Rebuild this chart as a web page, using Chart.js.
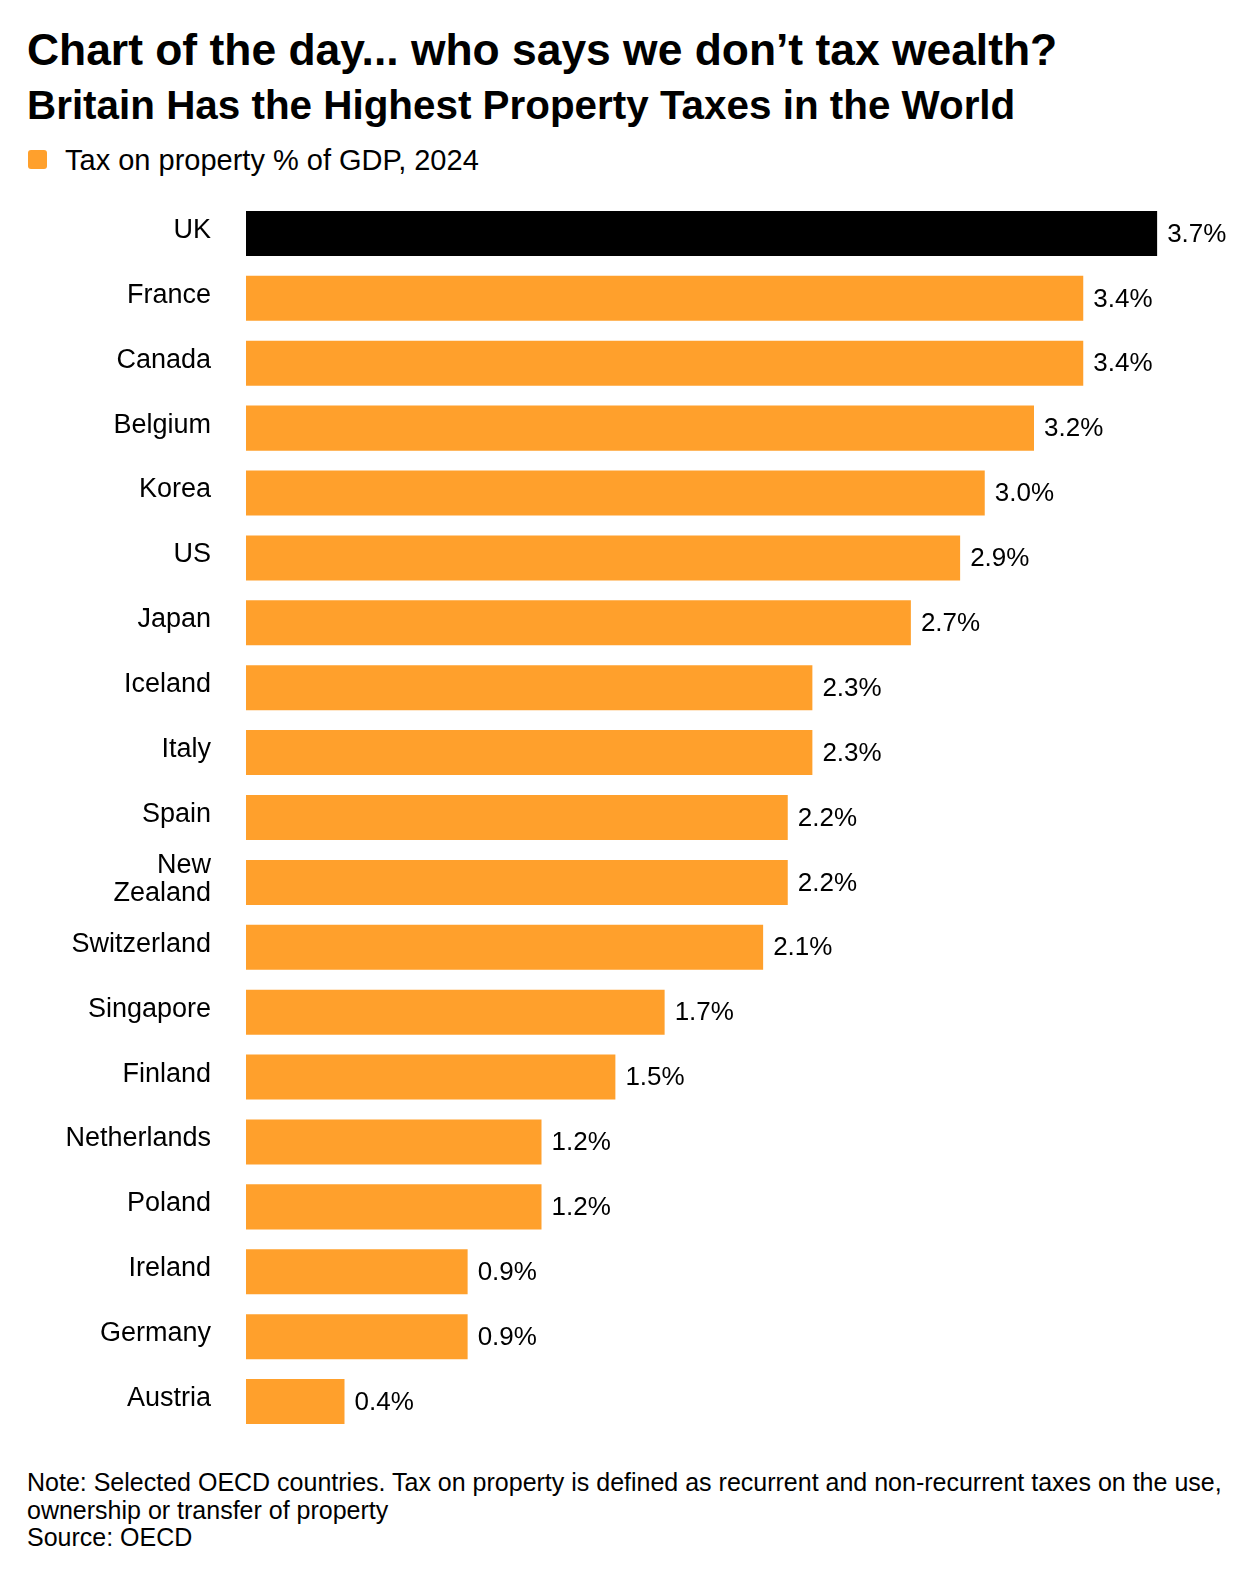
<!DOCTYPE html>
<html>
<head>
<meta charset="utf-8">
<script src="https://cdn.jsdelivr.net/npm/chart.js@4.4.1/dist/chart.umd.min.js"></script>
<style>
  body { margin: 0; background: #fff; font-family: "Liberation Sans", Arial, sans-serif; color: #000; }
  #page { position: relative; width: 1256px; height: 1572px; overflow: hidden; }
  .title { position: absolute; left: 27px; top: 28px; font-size: 44.4px; line-height: 44px; font-weight: bold; white-space: nowrap; }
  .subtitle { position: absolute; left: 27px; top: 85px; font-size: 40.4px; line-height: 40px; font-weight: bold; white-space: nowrap; }
  .legend { position: absolute; left: 28px; top: 146px; font-size: 29px; line-height: 28px; white-space: nowrap; }
  .legend .box { position: absolute; left: 0; top: 4px; width: 19px; height: 19px; border-radius: 3px; background: #ffa02c; }
  .legend span.txt { position: absolute; left: 37px; top: 0; }
  #chartWrap { position: absolute; left: 0; top: 201px; width: 1256px; height: 1233px; }
  .note { position: absolute; left: 27px; top: 1469px; font-size: 25px; line-height: 27.5px; width: 1229px; white-space: nowrap; }
</style>
</head>
<body>
<div id="page">
  <div class="title">Chart of the day... who says we don’t tax wealth?</div>
  <div class="subtitle">Britain Has the Highest Property Taxes in the World</div>
  <div class="legend"><div class="box"></div><span class="txt">Tax on property % of GDP, 2024</span></div>
  <div id="chartWrap"><canvas id="taxChart"></canvas></div>
  <div class="note">Note: Selected OECD countries. Tax on property is defined as recurrent and non-recurrent taxes on the use,<br>ownership or transfer of property<br>Source: OECD</div>
</div>

<script>
// Countries, top to bottom
var countries = ['UK', 'France', 'Canada', 'Belgium', 'Korea', 'US', 'Japan', 'Iceland', 'Italy', 'Spain',
    ['New', 'Zealand'], 'Switzerland', 'Singapore', 'Finland', 'Netherlands', 'Poland', 'Ireland', 'Germany', 'Austria'];

// Tax on property, % of GDP, 2024
var taxValues = [3.7, 3.4, 3.4, 3.2, 3.0, 2.9, 2.7, 2.3, 2.3, 2.2, 2.2, 2.1, 1.7, 1.5, 1.2, 1.2, 0.9, 0.9, 0.4];

var ORANGE = '#ffa02c';
var FONT = '"Liberation Sans", Arial, sans-serif';

// UK is highlighted in black
var barColors = countries.map(function (c) { return c === 'UK' ? '#000000' : ORANGE; });

// Draws the country names left of the bars (a bit above the bar centre, like the original)
var countryLabels = {
    id: 'countryLabels',
    afterDraw: function (chart) {
        var ctx = chart.ctx;
        var yScale = chart.scales.y;
        ctx.save();
        ctx.font = '27px ' + FONT;
        ctx.fillStyle = '#000';
        ctx.textAlign = 'right';
        ctx.textBaseline = 'middle';
        chart.data.labels.forEach(function (label, i) {
            var y = yScale.getPixelForTick(i) - 3;
            var lines = Array.isArray(label) ? label : [label];
            var lh = 28;
            var start = y - (lines.length - 1) * lh / 2;
            lines.forEach(function (line, j) {
                ctx.fillText(line, yScale.right - 35, start + j * lh);
            });
        });
        ctx.restore();
    }
};

// Value labels at the end of each bar
var valueLabels = {
    id: 'valueLabels',
    afterDatasetsDraw: function (chart) {
        var ctx = chart.ctx;
        var meta = chart.getDatasetMeta(0);
        ctx.save();
        ctx.font = '26px ' + FONT;
        ctx.fillStyle = '#000';
        ctx.textAlign = 'left';
        ctx.textBaseline = 'middle';
        meta.data.forEach(function (bar, i) {
            var v = chart.data.datasets[0].data[i];
            ctx.fillText(v.toFixed(1) + '%', bar.x + 10, bar.y + 1);
        });
        ctx.restore();
    }
};

var chart = new Chart(document.getElementById('taxChart').getContext('2d'), {
    type: 'bar',
    data: {
        labels: countries,
        datasets: [{
            label: 'Tax on property % of GDP, 2024',
            data: taxValues,
            backgroundColor: barColors,
            borderWidth: 0,
            categoryPercentage: 1.0,
            barPercentage: 0.694
        }]
    },
    options: {
        indexAxis: 'y',
        responsive: true,
        maintainAspectRatio: false,
        animation: false,
        layout: { padding: { left: 0, right: 25, top: 0, bottom: 0 } },
        plugins: {
            legend: { display: false },
            tooltip: { enabled: false },
            title: { display: false }
        },
        scales: {
            x: {
                display: false,
                min: 0,
                max: 4
            },
            y: {
                grid: { display: false, drawTicks: false },
                border: { display: false },
                ticks: { display: false },
                afterFit: function (scale) { scale.width = 246; }
            }
        }
    },
    plugins: [countryLabels, valueLabels]
});
</script>
</body>
</html>
